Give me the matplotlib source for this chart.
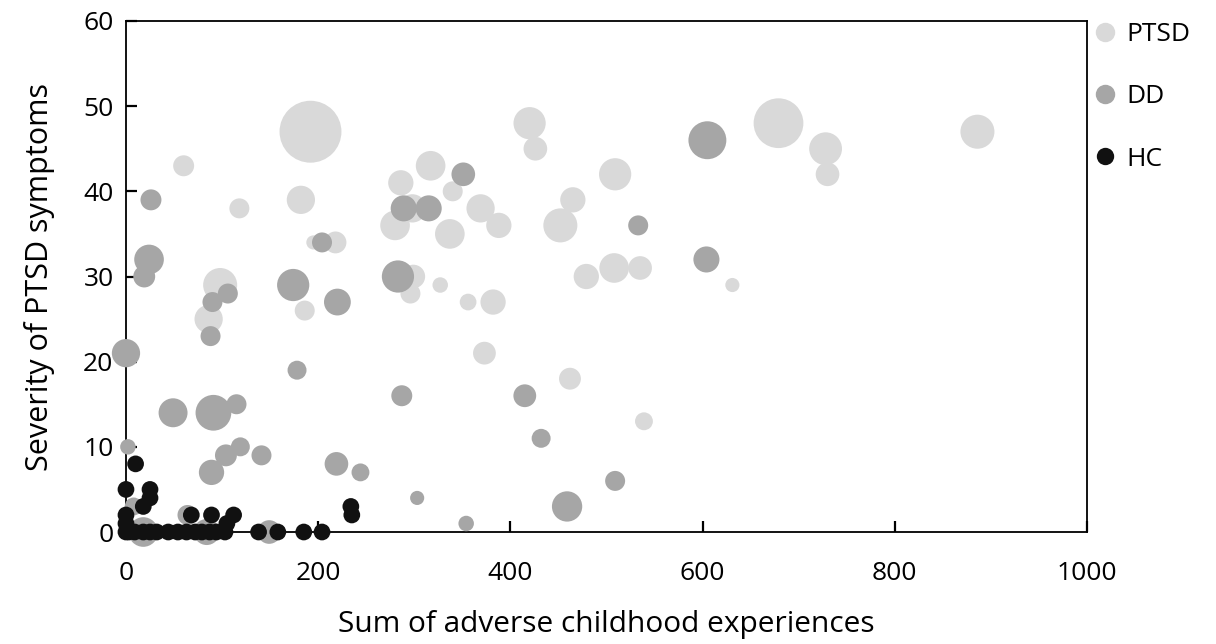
import matplotlib.pyplot as plt
from matplotlib.lines import Line2D

plt.rcParams['font.family'] = ['Open Sans', 'DejaVu Sans']

# PTSD group: adverse experiences, symptom severity, bubble value
ptsd_x = [192, 679, 886, 420, 426, 728, 730, 509, 465, 452, 479, 508, 535, 631,
          182, 317, 286, 340, 369, 298, 388, 280, 337, 195, 218, 299, 296, 327,
          186, 356, 382, 373, 462, 539, 60, 118, 98, 86]
ptsd_y = [47, 48, 47, 48, 45, 45, 42, 42, 39, 36, 30, 31, 31, 29,
          39, 43, 41, 40, 38, 38, 36, 36, 35, 34, 34, 30, 28, 29,
          26, 27, 27, 21, 18, 13, 43, 38, 29, 25]
ptsd_b = [96, 62, 29, 26, 14, 27, 14, 26, 16, 29, 16, 22, 14, 5,
          20, 22, 16, 10, 20, 20, 16, 22, 22, 5, 12, 14, 10, 6,
          10, 7, 16, 13, 12, 8, 11, 10, 29, 20]

# DD group
dd_x = [605, 533, 604, 351, 289, 315, 204, 174, 220, 283, 178, 287, 415, 26,
        24, 19, 106, 90, 0, 88, 49, 91, 115, 2, 119, 104, 141, 89,
        219, 244, 303, 354, 509, 459, 432, 8, 18, 64, 84, 149]
dd_y = [46, 36, 32, 42, 38, 38, 34, 29, 27, 30, 19, 16, 16, 39,
        32, 30, 28, 27, 21, 23, 14, 14, 15, 10, 10, 9, 9, 7,
        8, 7, 4, 1, 6, 3, 11, 3, 0, 2, 0, 0]
dd_b = [36, 10, 17, 14, 17, 17, 10, 26, 18, 26, 9, 11, 13, 11,
        22, 12, 10, 10, 20, 10, 21, 32, 10, 6, 9, 12, 10, 16,
        14, 8, 5, 6, 10, 23, 9, 8, 22, 10, 17, 14]

# HC group
hc_x = [10, 0, 25, 25, 18, 0, 0, 0, 3, 9, 18, 25, 32, 44, 54, 63,
        72, 79, 87, 94, 103, 68, 89, 112, 105, 138, 158, 185, 204, 234, 235]
hc_y = [8, 5, 5, 4, 3, 2, 1, 0, 0, 0, 0, 0, 0, 0, 0, 0,
        0, 0, 0, 0, 0, 2, 2, 2, 1, 0, 0, 0, 0, 3, 2]
hc_b = [7] * len(hc_x)

groups = ['PTSD', 'DD', 'HC']
colors = ['#D9D9D9', '#A6A6A6', '#111111']

# bubble value -> marker area in pt^2
scale = 20.7

fig = plt.figure(figsize=(12.16, 6.44), dpi=100)
ax = fig.add_axes([0.1036, 0.1739, 0.7903, 0.7935])

for xs, ys, bs, c in zip([ptsd_x, dd_x, hc_x], [ptsd_y, dd_y, hc_y],
                         [ptsd_b, dd_b, hc_b], colors):
    ax.scatter(xs, ys, s=[b * scale for b in bs], color=c, edgecolors='none',
               zorder=3, clip_on=False)

ax.set_xlim(0, 1000)
ax.set_ylim(0, 60)
ax.set_xticks(range(0, 1001, 200))
ax.set_yticks(range(0, 61, 10))
ax.tick_params(direction='in', length=8, width=1.6, labelsize=19)
ax.tick_params(axis='x', pad=21)
ax.tick_params(axis='y', pad=9)
for sp in ax.spines.values():
    sp.set_linewidth(1.3)
    sp.set_zorder(2)

ax.set_xlabel('Sum of adverse childhood experiences', fontsize=21.5)
ax.xaxis.set_label_coords(0.5, -0.152)
ax.set_ylabel('Severity of PTSD symptoms', fontsize=22, labelpad=20)

handles = [Line2D([], [], marker='o', linestyle='none', markersize=ms,
                  markerfacecolor=c, markeredgecolor='none')
           for c, ms in zip(colors, [14, 14, 12.5])]
ax.legend(handles, groups, loc='upper left', bbox_to_anchor=(0.978, 1.045),
          frameon=False, fontsize=19, handletextpad=0.2, labelspacing=1.42,
          handlelength=1.2)

plt.savefig('out.png', dpi=100)
